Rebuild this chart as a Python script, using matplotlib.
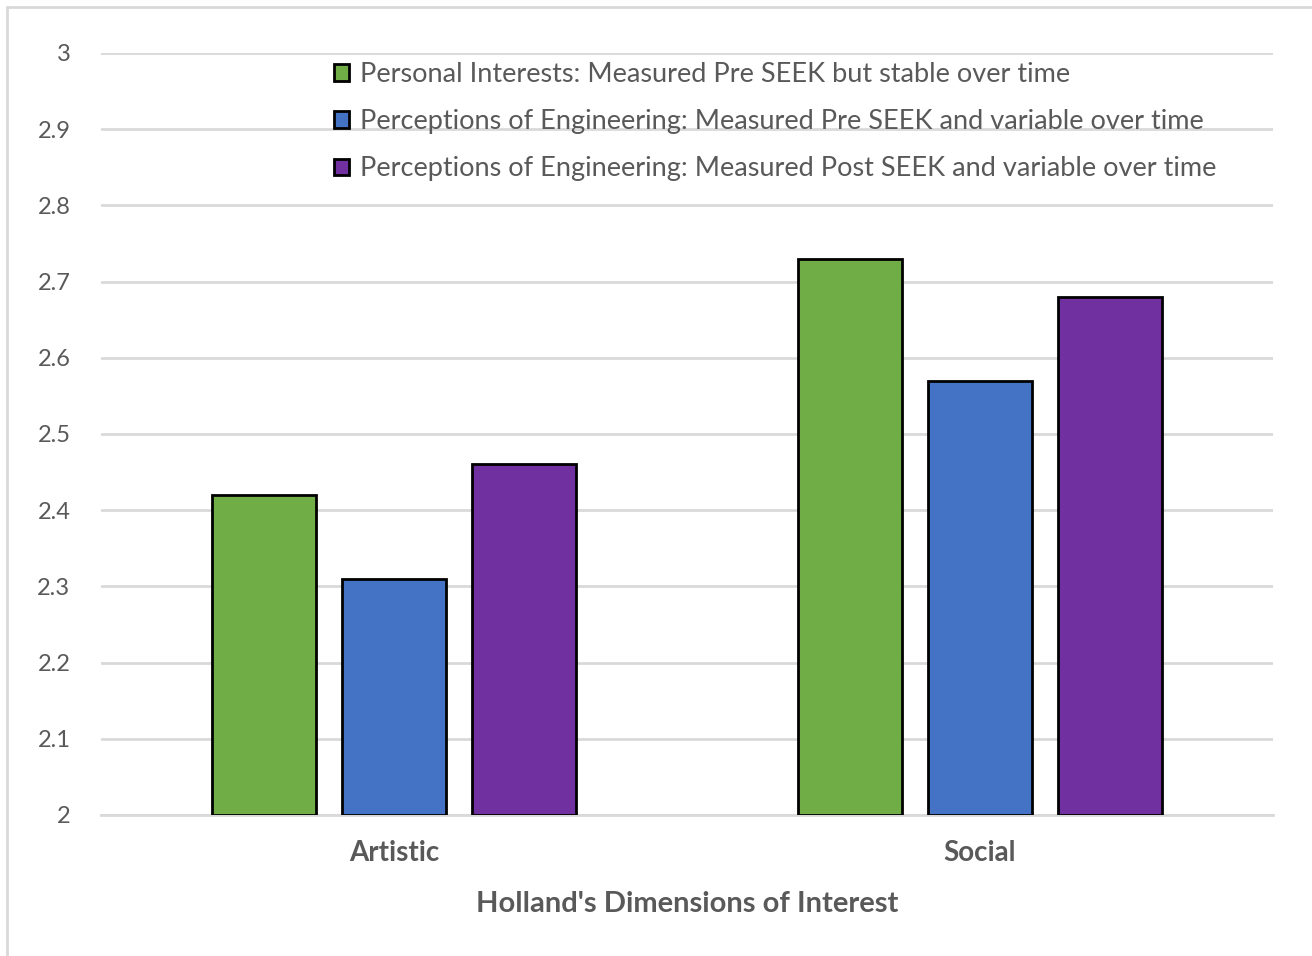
import matplotlib.pyplot as plt
import numpy as np
from matplotlib.patches import Rectangle

# data
categories = ['Artistic', 'Social']
series_names = [
    'Personal Interests: Measured Pre SEEK but stable over time',
    'Perceptions of Engineering: Measured Pre SEEK and variable over time',
    'Perceptions of Engineering: Measured Post SEEK and variable over time',
]
pre_stable = [2.42, 2.73]
pre_variable = [2.31, 2.57]
post_variable = [2.46, 2.68]
colors = ['#70AD47', '#4472C4', '#7030A0']
yticks = [2, 2.1, 2.2, 2.3, 2.4, 2.5, 2.6, 2.7, 2.8, 2.9, 3]
ytick_labels = ['2', '2.1', '2.2', '2.3', '2.4', '2.5', '2.6', '2.7', '2.8', '2.9', '3']

plt.rcParams['font.family'] = ['Lato', 'DejaVu Sans']
text_col = '#595959'

fig = plt.figure(figsize=(13.12, 9.56), dpi=100)
ax = fig.add_axes([0.077, 0.1475, 0.893, 0.7971])

# outer chart border
fig.patches.append(Rectangle((7 / 1312, -0.01), 1.0, 1 - 7 / 956 + 0.01,
                             transform=fig.transFigure, fill=False,
                             edgecolor='#d9d9d9', linewidth=2))

x = np.arange(len(categories))
step = 0.222
width = 0.177
for i, (vals, name) in enumerate(zip([pre_stable, pre_variable, post_variable], series_names)):
    ax.bar(x + (i - 1) * step, np.array(vals) - 2, width, bottom=2,
           color=colors[i], edgecolor='black', linewidth=2, label=name, zorder=3)

ax.set_xlim(-0.5, 1.5)
ax.set_ylim(2, 3)
ax.set_yticks(yticks)
ax.set_yticklabels(ytick_labels)
ax.set_xticks(x)
ax.set_xticklabels(categories, fontweight='bold', fontsize=20)
ax.tick_params(axis='both', length=0, labelsize=17, colors=text_col)
ax.tick_params(axis='x', labelsize=20, pad=18)
ax.tick_params(axis='y', pad=22)
ax.grid(axis='y', color='#d9d9d9', linewidth=2, zorder=0)
for s in ['top', 'right', 'left']:
    ax.spines[s].set_visible(False)
ax.spines['bottom'].set_color('#d9d9d9')
ax.spines['bottom'].set_linewidth(2)
ax.set_axisbelow(True)

ax.set_xlabel("Holland's Dimensions of Interest", fontsize=21, fontweight='bold',
              color=text_col, labelpad=18)

leg = ax.legend(loc='upper left', bbox_to_anchor=(0.183, 1.013), frameon=False,
                fontsize=19.5, handlelength=0.55, handleheight=0.55, handletextpad=0.4,
                labelspacing=0.82, borderaxespad=0.3)
for t in leg.get_texts():
    t.set_color(text_col)

fig.savefig('out.png', dpi=100, facecolor='white')
